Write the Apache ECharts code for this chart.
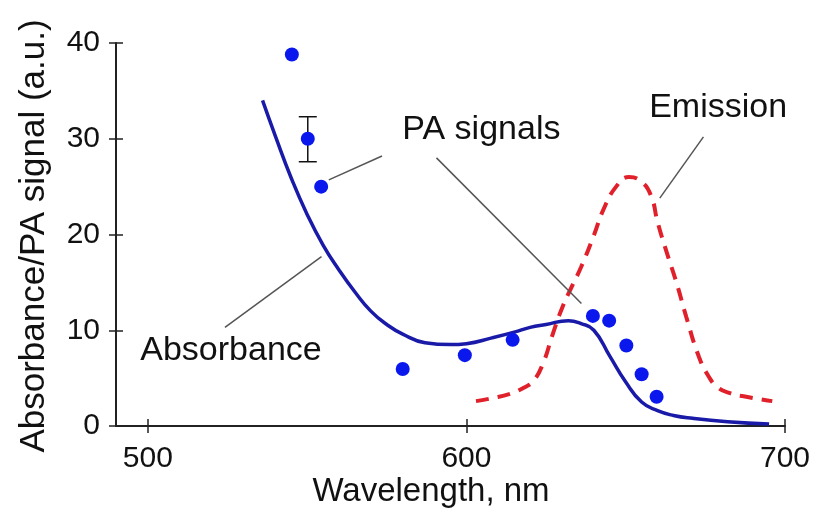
<!DOCTYPE html>
<html>
<head>
<meta charset="utf-8">
<script src="https://cdn.jsdelivr.net/npm/echarts@6/dist/echarts.min.js"></script>
<style>
    html, body { margin: 0; padding: 0; background: #fff; }
    #chart { width: 815px; height: 510px; }
</style>
</head>
<body>
<div id="chart"></div>
<script>
// wavelength (nm) ticks and signal ticks
const xTicks = [500, 600, 700];
const yTicks = [0, 10, 20, 30, 40];

// absorbance curve, [nm, a.u.]
const absorbance = [
    [536, 34.0], [540, 30.3], [545, 25.9], [550, 22.1], [555, 18.9], [560, 16.3],
    [565, 14.0], [570, 12.0], [575, 10.6], [580, 9.6], [587, 8.7], [595, 8.5],
    [600, 8.6], [608, 9.2], [615, 9.8], [620, 10.3], [625, 10.6], [632, 11.0],
    [636, 10.7], [640, 10.0], [645, 7.3], [650, 4.6], [655, 2.5], [660, 1.6],
    [665, 1.1], [671, 0.8], [682, 0.45], [695, 0.2]
];

// emission curve, [nm, a.u.]
const emission = [
    [603, 2.6], [608, 2.9], [614, 3.4], [618, 4.0], [621, 4.7], [624, 6.5],
    [627, 9.5], [630, 12.3], [633, 14.5], [636, 16.6], [640, 19.9], [643, 22.6],
    [647, 25.0], [651, 26.0], [655, 25.5], [658, 24.0], [660, 21.3], [663, 18.0],
    [666, 14.9], [669, 11.4], [673, 7.2], [676, 5.2], [679, 4.0], [683, 3.4],
    [687, 3.1], [696, 2.6]
];

// photoacoustic signal points
const paSignal = [
    [545.2, 38.8], [550.2, 30.0], [554.4, 25.0], [580, 5.95], [599.5, 7.4],
    [614.5, 9.0], [639.7, 11.5], [644.8, 11.0], [650.2, 8.4], [655, 5.4], [659.7, 3.05]
];

// error bar: [nm, low, high]
const paError = [[550.2, 27.6, 32.3]];

const font = 'Liberation Sans, Arial, sans-serif';
const axisColor = '#222';

const chart = echarts.init(document.getElementById('chart'));

const noteLabel = {
    show: true,
    position: 'inside',
    formatter: '{b}',
    fontFamily: font,
    fontSize: 34,
    color: '#111'
};

chart.setOption({
    animation: false,
    backgroundColor: '#fff',
    grid: {left: 116, right: 30, top: 43, bottom: 84},
    xAxis: [{
        type: 'value',
        min: 490,
        max: 700,
        axisLine: {show: true, lineStyle: {color: axisColor, width: 2}},
        axisTick: {show: true, length: 7, customValues: xTicks, lineStyle: {color: axisColor, width: 1.5}},
        axisLabel: {customValues: xTicks, margin: 18, fontFamily: font, fontSize: 30, color: '#111'},
        splitLine: {show: false}
    }, {
        // upward half of the crossing ticks
        type: 'value',
        min: 490,
        max: 700,
        position: 'top',
        offset: -383,
        axisLine: {show: false},
        axisTick: {show: true, length: 7, customValues: xTicks, lineStyle: {color: axisColor, width: 1.5}},
        axisLabel: {show: false},
        splitLine: {show: false}
    }],
    yAxis: [{
        type: 'value',
        min: 0,
        max: 40,
        interval: 10,
        axisLine: {show: true, lineStyle: {color: axisColor, width: 2}},
        axisTick: {show: true, length: 7, customValues: yTicks, lineStyle: {color: axisColor, width: 1.5}},
        axisLabel: {customValues: yTicks, margin: 16, fontFamily: font, fontSize: 30, color: '#111'},
        splitLine: {show: false}
    }, {
        type: 'value',
        min: 0,
        max: 40,
        interval: 10,
        position: 'right',
        offset: -669,
        axisLine: {show: false},
        axisTick: {show: true, length: 7, customValues: yTicks, lineStyle: {color: axisColor, width: 1.5}},
        axisLabel: {show: false},
        splitLine: {show: false}
    }],
    graphic: [{
        type: 'text',
        x: 34,
        y: 236,
        rotation: Math.PI / 2,
        style: {
            text: 'Absorbance/PA signal (a.u.)',
            fontFamily: font,
            fontSize: 35,
            fill: '#111',
            align: 'center',
            verticalAlign: 'middle'
        }
    }, {
        type: 'text',
        x: 431,
        y: 492,
        style: {
            text: 'Wavelength, nm',
            fontFamily: font,
            fontSize: 33,
            fill: '#111',
            align: 'center',
            verticalAlign: 'middle'
        }
    }],
    series: [{
        name: 'Absorbance',
        type: 'line',
        data: absorbance,
        smooth: 0.5,
        showSymbol: false,
        lineStyle: {color: '#1a1aa8', width: 3.5},
        z: 3
    }, {
        name: 'Emission',
        type: 'line',
        data: emission,
        smooth: 0.5,
        showSymbol: false,
        lineStyle: {color: '#e0202a', width: 4, type: [13, 9]},
        z: 2
    }, {
        name: 'PA error',
        type: 'custom',
        data: paError,
        renderItem: function (params, api) {
            const top = api.coord([api.value(0), api.value(2)]);
            const bottom = api.coord([api.value(0), api.value(1)]);
            const half = 9;
            const style = {stroke: '#111', lineWidth: 1.5};
            return {
                type: 'group',
                children: [
                    {type: 'line', shape: {x1: top[0], y1: top[1], x2: bottom[0], y2: bottom[1]}, style: style},
                    {type: 'line', shape: {x1: top[0] - half, y1: top[1], x2: top[0] + half, y2: top[1]}, style: style},
                    {type: 'line', shape: {x1: bottom[0] - half, y1: bottom[1], x2: bottom[0] + half, y2: bottom[1]}, style: style}
                ]
            };
        },
        z: 4
    }, {
        name: 'PA signals',
        type: 'scatter',
        data: paSignal,
        symbolSize: 14,
        itemStyle: {color: '#0a18ee', opacity: 1},
        z: 5,
        markLine: {
            silent: true,
            symbol: ['none', 'none'],
            label: {show: false},
            lineStyle: {color: '#555', width: 1.5, type: 'solid'},
            data: [
                [{coord: [556.8, 25.7]}, {coord: [573.5, 28.2]}],
                [{coord: [590.6, 28.0]}, {coord: [636.1, 12.8]}],
                [{coord: [524.2, 10.3]}, {coord: [554.5, 17.7]}],
                [{coord: [674.4, 30.2]}, {coord: [660.7, 23.8]}]
            ]
        },
        markPoint: {
            silent: true,
            symbol: 'circle',
            symbolSize: 1,
            itemStyle: {color: 'rgba(0,0,0,0)'},
            label: noteLabel,
            data: [
                {name: 'PA signals', coord: [604.7, 31.0]},
                {name: 'Emission', coord: [679, 33.2]},
                {name: 'Absorbance', coord: [526.1, 7.9]}
            ]
        }
    }]
});
</script>
</body>
</html>
